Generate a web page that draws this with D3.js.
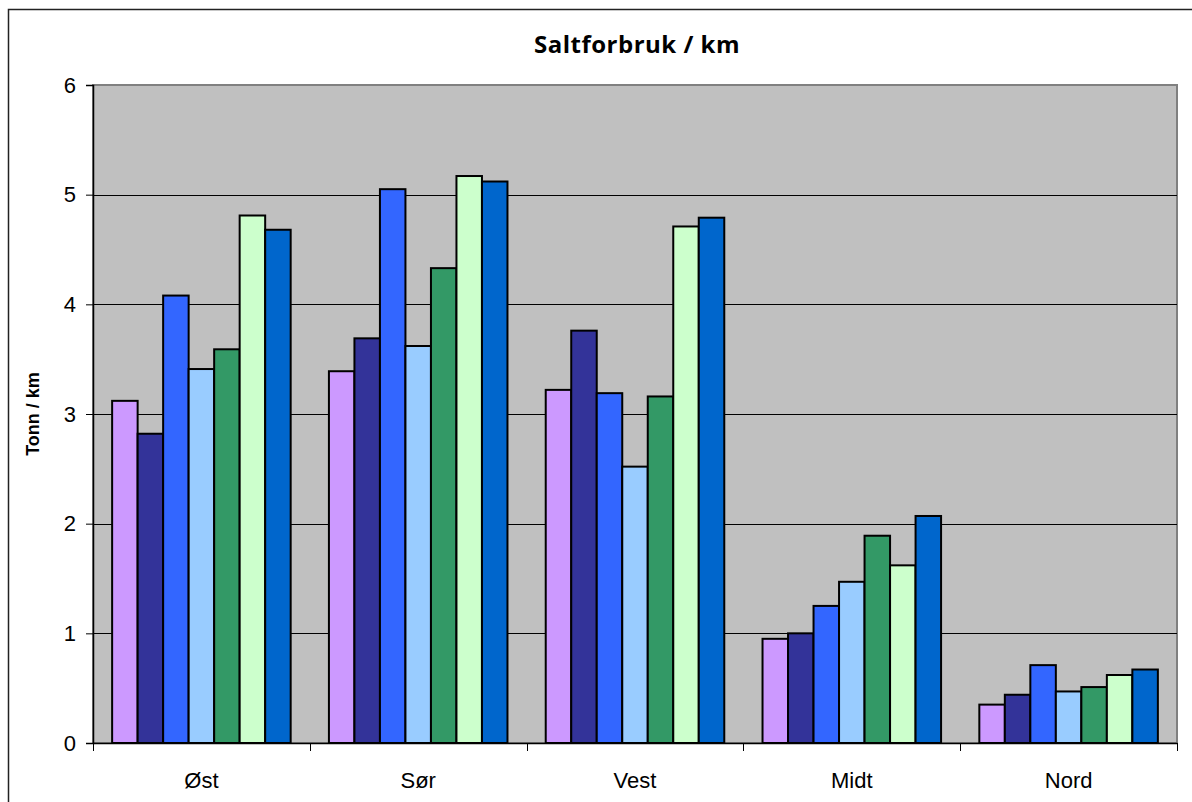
<!DOCTYPE html>
<html>
<head>
<meta charset="utf-8">
<script src="https://cdn.jsdelivr.net/npm/d3@7"></script>
<style>
  body { margin: 0; background: #fff; }
  svg { display: block; }
</style>
</head>
<body>
<div id="chart"></div>
<script>
var regions = ['Øst', 'Sør', 'Vest', 'Midt', 'Nord'];
var seriesColors = ['#cc99ff', '#333399', '#3366ff', '#99ccff', '#339966', '#ccffcc', '#0066cc'];
// one array per series, values per region
var serie1 = [3.12, 3.39, 3.22, 0.95, 0.35];
var serie2 = [2.82, 3.69, 3.76, 1.00, 0.44];
var serie3 = [4.08, 5.05, 3.19, 1.25, 0.71];
var serie4 = [3.41, 3.62, 2.52, 1.47, 0.47];
var serie5 = [3.59, 4.33, 3.16, 1.89, 0.51];
var serie6 = [4.81, 5.17, 4.71, 1.62, 0.62];
var serie7 = [4.68, 5.12, 4.79, 2.07, 0.67];
var yTicks = [0, 1, 2, 3, 4, 5, 6];

var allSeries = [serie1, serie2, serie3, serie4, serie5, serie6, serie7];

var width = 1192, height = 802;
var plot = { left: 93, top: 85, right: 1177, bottom: 743 };

var svg = d3.select('#chart').append('svg')
    .attr('width', width)
    .attr('height', height);

// outer chart frame
svg.append('rect')
    .attr('x', 8.5).attr('y', 9.5)
    .attr('width', 1200).attr('height', 900)
    .attr('fill', '#fff')
    .attr('stroke', '#222')
    .attr('stroke-width', 1.5);

var x = d3.scaleBand()
    .domain(regions)
    .range([plot.left, plot.right])
    .paddingInner(0).paddingOuter(0);

var xs = d3.scaleBand()
    .domain(d3.range(allSeries.length))
    .range([0, x.bandwidth()])
    .paddingInner(0).paddingOuter(0.75);

var y = d3.scaleLinear()
    .domain([0, 6])
    .range([plot.bottom, plot.top]);

// plot background
svg.append('rect')
    .attr('x', plot.left).attr('y', plot.top)
    .attr('width', plot.right - plot.left)
    .attr('height', plot.bottom - plot.top)
    .attr('fill', '#c0c0c0')
    .attr('stroke', '#808080')
    .attr('stroke-width', 2);

// gridlines
svg.append('g').selectAll('line')
    .data(yTicks.filter(function(d){ return d > 0 && d < 6; }))
    .enter().append('line')
    .attr('x1', plot.left).attr('x2', plot.right)
    .attr('y1', function(d){ return Math.round(y(d)) + 0.5; })
    .attr('y2', function(d){ return Math.round(y(d)) + 0.5; })
    .attr('stroke', '#000')
    .attr('stroke-width', 1);

// bars
var groups = svg.append('g').selectAll('g')
    .data(allSeries)
    .enter().append('g')
    .attr('fill', function(d, i){ return seriesColors[i]; });

groups.each(function(vals, si) {
    d3.select(this).selectAll('rect')
        .data(vals)
        .enter().append('rect')
        .attr('x', function(d, ri){ return x(regions[ri]) + xs(si); })
        .attr('y', function(d){ return y(d); })
        .attr('width', xs.bandwidth())
        .attr('height', function(d){ return y(0) - y(d); })
        .attr('stroke', '#000')
        .attr('stroke-width', 2);
});

// y axis
var yAxis = d3.axisLeft(y).tickValues(yTicks).tickSize(7).tickPadding(10).tickFormat(d3.format('d'));
var gy = svg.append('g')
    .attr('transform', 'translate(' + plot.left + ',0)')
    .call(yAxis);
gy.select('.domain').attr('stroke', '#000').attr('stroke-width', 1.5);
gy.selectAll('.tick line').attr('stroke', '#000');
gy.selectAll('text')
    .attr('font-family', 'Liberation Sans, Arial, sans-serif')
    .attr('font-size', 22)
    .attr('fill', '#000');

// x axis, ticks at category boundaries
var xAxis = d3.axisBottom(x).tickSize(0).tickPadding(29);
var gx = svg.append('g')
    .attr('transform', 'translate(0,' + plot.bottom + ')')
    .call(xAxis);
gx.select('.domain').attr('stroke', '#000').attr('stroke-width', 1.5);
gx.selectAll('text')
    .attr('font-family', 'Liberation Sans, Arial, sans-serif')
    .attr('font-size', 22)
    .attr('fill', '#000');
gx.selectAll('line.bound')
    .data(regions.concat(['end']))
    .enter().append('line')
    .attr('class', 'bound')
    .attr('x1', function(d, i){ return Math.round(plot.left + i * x.step()) + 0.5; })
    .attr('x2', function(d, i){ return Math.round(plot.left + i * x.step()) + 0.5; })
    .attr('y1', 0).attr('y2', 8)
    .attr('stroke', '#000');

// title
svg.append('text')
    .attr('x', (plot.left + plot.right) / 2 + 2)
    .attr('y', 53)
    .attr('text-anchor', 'middle')
    .attr('font-family', 'Open Sans, sans-serif')
    .attr('font-weight', 'bold')
    .attr('font-size', 24)
    .attr('letter-spacing', 0.5)
    .text('Saltforbruk / km');

// y axis title
svg.append('text')
    .attr('transform', 'translate(39,' + ((plot.top + plot.bottom) / 2) + ') rotate(-90)')
    .attr('text-anchor', 'middle')
    .attr('font-family', 'Liberation Sans, Arial, sans-serif')
    .attr('font-weight', 'bold')
    .attr('font-size', 18)
    .text('Tonn / km');
</script>
</body>
</html>
